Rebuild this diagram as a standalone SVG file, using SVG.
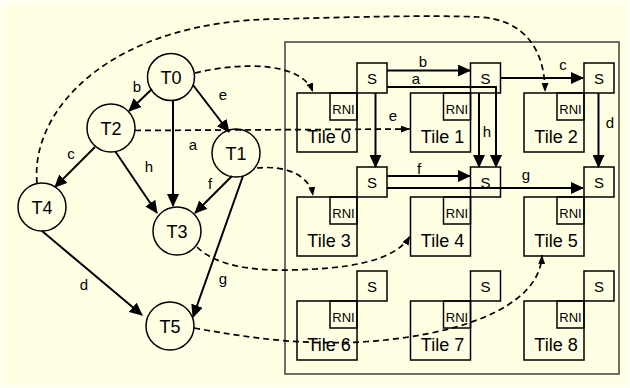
<svg xmlns="http://www.w3.org/2000/svg" width="630" height="388" viewBox="0 0 630 388">
<style>
text{font-family:"Liberation Sans",Arial,sans-serif;fill:#000;text-anchor:middle}
.node circle{fill:#ffffe4;stroke:#000;stroke-width:1.5}
.node text{font-size:18px}
.box{fill:none;stroke:#000;stroke-width:1.5}
.tt{font-size:18px}
.st{font-size:15px}
.rt{font-size:13px}
.lbl{font-size:15px}
.sol{fill:none;stroke:#000;stroke-width:2;marker-end:url(#ah)}
.dash{fill:none;stroke:#000;stroke-width:1.7;stroke-dasharray:6,4;marker-end:url(#dh)}
</style>
<defs>
<marker id="ah" markerUnits="userSpaceOnUse" markerWidth="13" markerHeight="12" refX="12" refY="6" orient="auto"><path d="M0,0 L13,6 L0,12 z" fill="#000"/></marker>
<marker id="dh" markerUnits="userSpaceOnUse" markerWidth="9" markerHeight="7" refX="9" refY="3.5" orient="auto"><path d="M0,0 L9,3.5 L0,7 z" fill="#000"/></marker>
</defs>
<rect x="0" y="0" width="630" height="388" fill="#fffff4"/>
<rect x="3" y="3" width="624" height="382" fill="#ffffe4"/>
<g id="container"><rect x="285" y="42" width="334" height="332" fill="none" stroke="#404040" stroke-width="1.5"/></g>
<g id="tile0"><rect class="box" x="297" y="93" width="60" height="59"/><rect class="box" x="330" y="93" width="27" height="27"/><rect class="box" x="357" y="63" width="30" height="30"/><text class="rt" x="343.5" y="113.5">RNI</text><text class="st" x="372" y="83.5">S</text><text class="tt" x="329" y="143">Tile 0</text></g>
<g id="tile1"><rect class="box" x="410.5" y="93" width="60" height="59"/><rect class="box" x="443.5" y="93" width="27" height="27"/><rect class="box" x="470.5" y="63" width="30" height="30"/><text class="rt" x="457" y="113.5">RNI</text><text class="st" x="485.5" y="83.5">S</text><text class="tt" x="442.5" y="143">Tile 1</text></g>
<g id="tile2"><rect class="box" x="524" y="93" width="60" height="59"/><rect class="box" x="557" y="93" width="27" height="27"/><rect class="box" x="584" y="63" width="30" height="30"/><text class="rt" x="570.5" y="113.5">RNI</text><text class="st" x="599" y="83.5">S</text><text class="tt" x="556" y="143">Tile 2</text></g>
<g id="tile3"><rect class="box" x="297" y="197" width="60" height="59"/><rect class="box" x="330" y="197" width="27" height="27"/><rect class="box" x="357" y="167" width="30" height="30"/><text class="rt" x="343.5" y="217.5">RNI</text><text class="st" x="372" y="187.5">S</text><text class="tt" x="329" y="247">Tile 3</text></g>
<g id="tile4"><rect class="box" x="410.5" y="197" width="60" height="59"/><rect class="box" x="443.5" y="197" width="27" height="27"/><rect class="box" x="470.5" y="167" width="30" height="30"/><text class="rt" x="457" y="217.5">RNI</text><text class="st" x="485.5" y="187.5">S</text><text class="tt" x="442.5" y="247">Tile 4</text></g>
<g id="tile5"><rect class="box" x="524" y="197" width="60" height="59"/><rect class="box" x="557" y="197" width="27" height="27"/><rect class="box" x="584" y="167" width="30" height="30"/><text class="rt" x="570.5" y="217.5">RNI</text><text class="st" x="599" y="187.5">S</text><text class="tt" x="556" y="247">Tile 5</text></g>
<g id="tile6"><rect class="box" x="297" y="301" width="60" height="59"/><rect class="box" x="330" y="301" width="27" height="27"/><rect class="box" x="357" y="271" width="30" height="30"/><text class="rt" x="343.5" y="321.5">RNI</text><text class="st" x="372" y="291.5">S</text><text class="tt" x="329" y="351">Tile 6</text></g>
<g id="tile7"><rect class="box" x="410.5" y="301" width="60" height="59"/><rect class="box" x="443.5" y="301" width="27" height="27"/><rect class="box" x="470.5" y="271" width="30" height="30"/><text class="rt" x="457" y="321.5">RNI</text><text class="st" x="485.5" y="291.5">S</text><text class="tt" x="442.5" y="351">Tile 7</text></g>
<g id="tile8"><rect class="box" x="524" y="301" width="60" height="59"/><rect class="box" x="557" y="301" width="27" height="27"/><rect class="box" x="584" y="271" width="30" height="30"/><text class="rt" x="570.5" y="321.5">RNI</text><text class="st" x="599" y="291.5">S</text><text class="tt" x="556" y="351">Tile 8</text></g>
<g id="T0" class="node"><circle cx="171" cy="77" r="23.5"/><text x="171" y="83.5">T0</text></g>
<g id="T1" class="node"><circle cx="236" cy="153" r="24"/><text x="236" y="159.5">T1</text></g>
<g id="T2" class="node"><circle cx="111" cy="128" r="24"/><text x="111" y="134.5">T2</text></g>
<g id="T3" class="node"><circle cx="177" cy="231" r="24"/><text x="177" y="237.5">T3</text></g>
<g id="T4" class="node"><circle cx="42" cy="207" r="24"/><text x="42" y="213.5">T4</text></g>
<g id="T5" class="node"><circle cx="170" cy="326" r="24"/><text x="170" y="332.5">T5</text></g>
<g id="connectors">
<path class="sol" d="M152,89 L129,111"/>
<path class="sol" d="M193,85 L229,132"/>
<path class="sol" d="M173,100 L173,206"/>
<path class="sol" d="M95,147 L55,187"/>
<path class="sol" d="M115,151 L157,213"/>
<path class="sol" d="M232,176 L195,213"/>
<path class="sol" d="M243,176 L193,317"/>
<path class="sol" d="M42,231 L142,315"/>
<path class="sol" d="M387,70.5 L470,70.5"/>
<path class="sol" d="M387,87 L496,87 L496,167"/>
<path class="sol" d="M479,93 L479,167"/>
<path class="sol" d="M500.5,78 L583,78"/>
<path class="sol" d="M598.5,93 L598.5,167"/>
<path class="sol" d="M375.5,93 L375.5,167"/>
<path class="sol" d="M387,176 L470,176"/>
<path class="sol" d="M387,188 L583,188"/>
<path class="dash" d="M195,73 C 245,61 302,63 313,92"/>
<path class="dash" d="M135,130.5 L410,129"/>
<path class="dash" d="M37,183 C 30,110 110,20 280,19 C 350,17 430,15 480,17 C 525,20 545,50 545,92"/>
<path class="dash" d="M257,168 C 285,165 310,175 313,196"/>
<path class="dash" d="M197,247 C 215,265 250,271 290,270 C 345,269 395,262 410,236"/>
<path class="dash" d="M194,328 C 250,338 300,345 360,342 C 450,337 540,310 542,255"/>
</g>
<g id="labels">
<text class="lbl" x="137" y="91.5">b</text>
<text class="lbl" x="223" y="100">e</text>
<text class="lbl" x="193" y="150">a</text>
<text class="lbl" x="71" y="158.5">c</text>
<text class="lbl" x="149" y="171.5">h</text>
<text class="lbl" x="210" y="188.5">f</text>
<text class="lbl" x="223" y="284">g</text>
<text class="lbl" x="84" y="290">d</text>
<text class="lbl" x="423" y="66.5">b</text>
<text class="lbl" x="416" y="84">a</text>
<text class="lbl" x="393" y="120.5">e</text>
<text class="lbl" x="487" y="136.5">h</text>
<text class="lbl" x="563" y="69.5">c</text>
<text class="lbl" x="610" y="127.5">d</text>
<text class="lbl" x="419" y="174">f</text>
<text class="lbl" x="526" y="180">g</text>
</g>
</svg>
